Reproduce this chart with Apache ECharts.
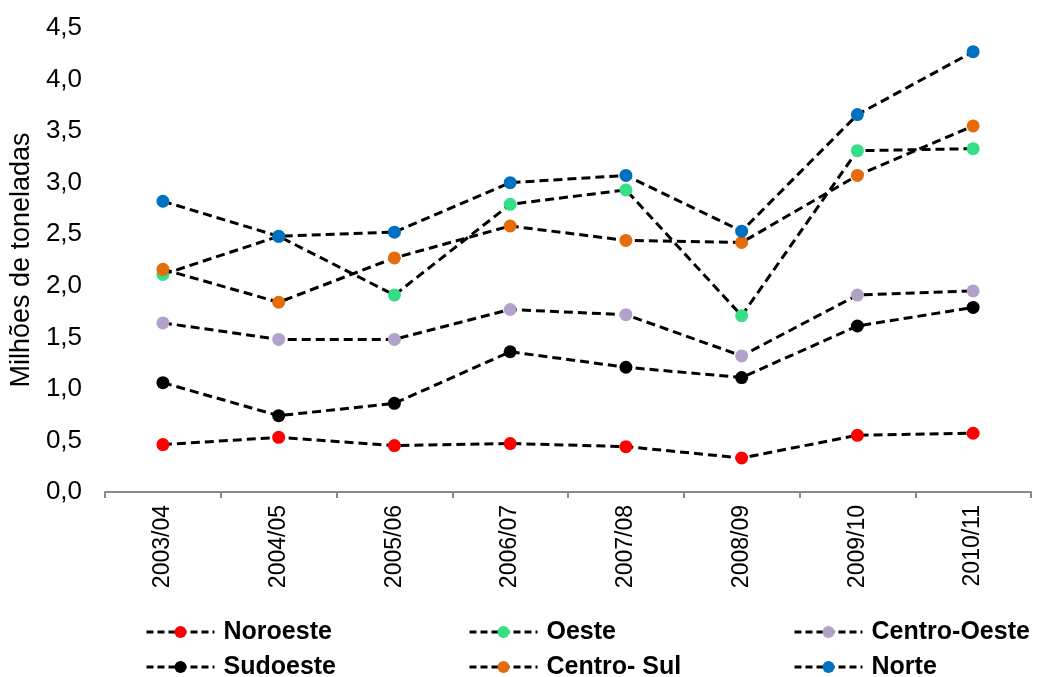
<!DOCTYPE html>
<html>
<head>
<meta charset="utf-8">
<script src="https://cdn.jsdelivr.net/npm/echarts@6/dist/echarts.min.js"></script>
<style>
  html, body { margin: 0; padding: 0; background: #fff; }
  #chart { width: 1041px; height: 677px; }
</style>
</head>
<body>
<div id="chart"></div>
<script>
// Safras (eixo X)
const categories = ['2003/04', '2004/05', '2005/06', '2006/07', '2007/08', '2008/09', '2009/10', '2010/11'];

// Produção por região, em milhões de toneladas
const noroeste    = [0.46, 0.53, 0.45, 0.47, 0.44, 0.33, 0.55, 0.57];
const oeste       = [2.11, 2.48, 1.91, 2.79, 2.93, 1.71, 3.31, 3.33];
const centroOeste = [1.64, 1.48, 1.48, 1.77, 1.72, 1.32, 1.91, 1.95];
const sudoeste    = [1.06, 0.74, 0.86, 1.36, 1.21, 1.11, 1.61, 1.79];
const centroSul   = [2.16, 1.84, 2.27, 2.58, 2.44, 2.42, 3.07, 3.55];
const norte       = [2.82, 2.48, 2.52, 3.00, 3.07, 2.53, 3.66, 4.27];

const seriesNames  = ['Noroeste', 'Oeste', 'Centro-Oeste', 'Sudoeste', 'Centro- Sul', 'Norte'];
const seriesValues = [noroeste, oeste, centroOeste, sudoeste, centroSul, norte];
const markerColors = ['#FF0000', '#36DE86', '#B3A2C7', '#000000', '#E46C0A', '#0070C0'];

const FONT = '"Liberation Sans", Arial, sans-serif';

const series = seriesNames.map((name, i) => ({
  name: name,
  type: 'line',
  data: seriesValues[i],
  symbol: 'circle',
  symbolSize: 13,
  itemStyle: { color: markerColors[i] },
  lineStyle: { color: '#000', width: 3, type: [9, 5] },
  emphasis: { disabled: true },
  z: 2 + i
}));

// Legenda: três colunas, duas linhas (uma entrada por componente)
const legendColumnsLeft = [145, 468, 793];
const legendRowsTop = [619, 654];

const legends = seriesNames.map((name, i) => ({
  orient: 'horizontal',
  left: legendColumnsLeft[i % 3],
  top: legendRowsTop[Math.floor(i / 3)],
  data: [name],
  itemWidth: 68,
  itemHeight: 15,
  padding: 0,
  selectedMode: false,
  lineStyle: { color: '#000', width: 3, type: [7, 4] },
  textStyle: {
    fontFamily: FONT,
    fontSize: 25,
    fontWeight: 'bold',
    color: '#000',
    lineHeight: 26,
    padding: [0, 0, 0, 4]
  }
}));

const chart = echarts.init(document.getElementById('chart'));
chart.setOption({
  animation: false,
  backgroundColor: '#fff',
  grid: { left: 105, right: 10, top: 28, bottom: 185 },
  legend: legends,
  xAxis: {
    type: 'category',
    data: categories,
    boundaryGap: true,
    axisLine: { lineStyle: { color: '#898989', width: 2 } },
    axisTick: { show: true, length: 6, lineStyle: { color: '#898989', width: 2 } },
    axisLabel: {
      rotate: 90,
      margin: 13,
      fontFamily: FONT,
      fontSize: 23,
      color: '#000'
    },
    splitLine: { show: false }
  },
  yAxis: {
    type: 'value',
    min: 0,
    max: 4.5,
    interval: 0.5,
    name: 'Milhões de toneladas',
    nameLocation: 'middle',
    nameRotate: 90,
    nameGap: 68,
    nameTextStyle: { fontFamily: FONT, fontSize: 27, color: '#000' },
    axisLine: { show: false },
    axisTick: { show: false },
    splitLine: { show: false },
    axisLabel: {
      margin: 23,
      fontFamily: FONT,
      fontSize: 26,
      color: '#000',
      formatter: v => v.toFixed(1).replace('.', ',')
    }
  },
  series: series
});
</script>
</body>
</html>
